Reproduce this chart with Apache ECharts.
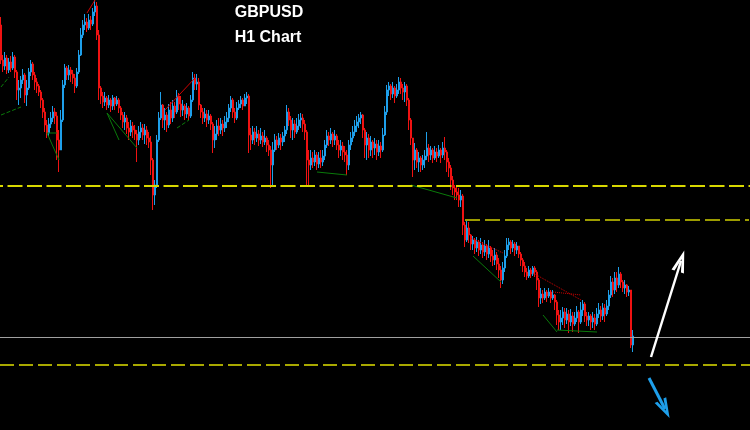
<!DOCTYPE html>
<html>
<head>
<meta charset="utf-8">
<script src="https://cdn.jsdelivr.net/npm/echarts@6/dist/echarts.min.js"></script>
<style>
html,body{margin:0;padding:0;background:#000;}
#c{width:750px;height:430px;}
</style>
</head>
<body>
<div id="c"></div>
<script>
// ---- data (hourly GBPUSD bars) ----
const titleText = 'GBPUSD';
const subTitleText = 'H1 Chart';
const firstOpen = 1.2875;
const closes = [
1.2840,1.2834,1.2842,1.2830,1.2838,1.2832,1.2843,1.2828,1.2810,1.2812,
1.2820,1.2825,1.2805,1.2812,1.2828,1.2836,1.2825,1.2818,1.2814,1.2808,
1.2800,1.2788,1.2775,1.2767,1.2776,1.2782,1.2788,1.2784,1.2760,1.2750,
1.2780,1.2815,1.2832,1.2825,1.2830,1.2826,1.2822,1.2814,1.2828,1.2845,
1.2865,1.2875,1.2878,1.2872,1.2880,1.2876,1.2888,1.2894,1.2865,1.2812,
1.2804,1.2798,1.2802,1.2795,1.2800,1.2794,1.2802,1.2796,1.2800,1.2792,
1.2785,1.2778,1.2782,1.2772,1.2768,1.2774,1.2770,1.2766,1.2760,1.2768,
1.2772,1.2765,1.2770,1.2762,1.2758,1.2740,1.2705,1.2715,1.2760,1.2782,
1.2795,1.2780,1.2785,1.2775,1.2790,1.2782,1.2794,1.2788,1.2804,1.2796,
1.2790,1.2794,1.2786,1.2792,1.2784,1.2800,1.2822,1.2816,1.2818,1.2795,
1.2788,1.2782,1.2786,1.2780,1.2784,1.2776,1.2760,1.2766,1.2774,1.2770,
1.2776,1.2772,1.2778,1.2782,1.2792,1.2800,1.2788,1.2782,1.2792,1.2796,
1.2800,1.2794,1.2802,1.2804,1.2765,1.2760,1.2768,1.2762,1.2766,1.2760,
1.2764,1.2758,1.2762,1.2755,1.2750,1.2735,1.2750,1.2760,1.2755,1.2762,
1.2758,1.2764,1.2770,1.2788,1.2780,1.2770,1.2776,1.2768,1.2774,1.2780,
1.2782,1.2776,1.2768,1.2740,1.2735,1.2742,1.2738,1.2745,1.2736,1.2742,
1.2738,1.2744,1.2755,1.2764,1.2760,1.2766,1.2760,1.2764,1.2755,1.2750,
1.2754,1.2748,1.2745,1.2735,1.2755,1.2762,1.2768,1.2774,1.2778,1.2782,
1.2785,1.2770,1.2755,1.2762,1.2750,1.2758,1.2752,1.2756,1.2748,1.2754,
1.2750,1.2765,1.2788,1.2810,1.2814,1.2806,1.2812,1.2804,1.2810,1.2818,
1.2812,1.2808,1.2814,1.2800,1.2780,1.2762,1.2740,1.2750,1.2738,1.2742,
1.2735,1.2740,1.2744,1.2752,1.2745,1.2750,1.2742,1.2748,1.2744,1.2750,
1.2745,1.2752,1.2748,1.2738,1.2732,1.2720,1.2712,1.2708,1.2705,1.2700,
1.2704,1.2675,1.2660,1.2672,1.2665,1.2656,1.2660,1.2652,1.2658,1.2650,
1.2655,1.2648,1.2654,1.2646,1.2652,1.2644,1.2640,1.2645,1.2636,1.2630,
1.2620,1.2632,1.2644,1.2655,1.2658,1.2652,1.2656,1.2650,1.2654,1.2646,
1.2640,1.2634,1.2628,1.2624,1.2630,1.2626,1.2632,1.2628,1.2620,1.2602,
1.2606,1.2602,1.2608,1.2604,1.2608,1.2602,1.2605,1.2598,1.2585,1.2578,
1.2582,1.2588,1.2580,1.2586,1.2578,1.2584,1.2576,1.2582,1.2588,1.2578,
1.2590,1.2596,1.2584,1.2580,1.2584,1.2578,1.2582,1.2576,1.2586,1.2590,
1.2584,1.2592,1.2586,1.2594,1.2605,1.2618,1.2610,1.2622,1.2615,1.2626,
1.2618,1.2612,1.2615,1.2608,1.2610,1.2555,1.2564
];
const highs = [
1.2883,1.2845,1.2848,1.2845,1.2842,1.2844,1.2848,1.2845,1.2830,1.2820,
1.2824,1.2831,1.2827,1.2820,1.2832,1.2840,1.2838,1.2828,1.2822,1.2816,
1.2810,1.2802,1.2792,1.2780,1.2782,1.2788,1.2794,1.2792,1.2788,1.2770,
1.2790,1.2820,1.2836,1.2834,1.2835,1.2833,1.2830,1.2826,1.2832,1.2850,
1.2872,1.2880,1.2886,1.2882,1.2886,1.2884,1.2892,1.2900,1.2898,1.2870,
1.2814,1.2808,1.2808,1.2804,1.2805,1.2802,1.2805,1.2803,1.2804,1.2802,
1.2794,1.2788,1.2788,1.2785,1.2778,1.2780,1.2778,1.2775,1.2770,1.2774,
1.2778,1.2776,1.2776,1.2774,1.2768,1.2764,1.2742,1.2720,1.2765,1.2788,
1.2808,1.2796,1.2792,1.2788,1.2796,1.2798,1.2800,1.2798,1.2810,1.2807,
1.2804,1.2800,1.2796,1.2797,1.2794,1.2805,1.2828,1.2826,1.2826,1.2822,
1.2796,1.2792,1.2792,1.2790,1.2790,1.2786,1.2778,1.2774,1.2780,1.2782,
1.2782,1.2780,1.2784,1.2788,1.2796,1.2804,1.2802,1.2792,1.2798,1.2800,
1.2804,1.2802,1.2806,1.2808,1.2806,1.2772,1.2774,1.2772,1.2774,1.2770,
1.2772,1.2768,1.2770,1.2764,1.2760,1.2754,1.2758,1.2766,1.2764,1.2767,
1.2766,1.2768,1.2774,1.2795,1.2792,1.2784,1.2782,1.2780,1.2782,1.2786,
1.2787,1.2786,1.2780,1.2770,1.2750,1.2750,1.2748,1.2750,1.2748,1.2748,
1.2750,1.2750,1.2760,1.2770,1.2768,1.2772,1.2768,1.2770,1.2766,1.2760,
1.2760,1.2758,1.2754,1.2750,1.2760,1.2768,1.2774,1.2780,1.2784,1.2786,
1.2788,1.2786,1.2772,1.2768,1.2766,1.2764,1.2760,1.2762,1.2760,1.2760,
1.2758,1.2772,1.2794,1.2815,1.2818,1.2816,1.2818,1.2814,1.2816,1.2823,
1.2822,1.2816,1.2818,1.2816,1.2802,1.2782,1.2760,1.2757,1.2752,1.2748,
1.2744,1.2745,1.2750,1.2768,1.2756,1.2754,1.2752,1.2754,1.2752,1.2755,
1.2752,1.2758,1.2763,1.2750,1.2742,1.2735,1.2724,1.2715,1.2713,1.2712,
1.2710,1.2706,1.2678,1.2680,1.2678,1.2666,1.2664,1.2662,1.2663,1.2660,
1.2662,1.2658,1.2660,1.2656,1.2660,1.2654,1.2650,1.2652,1.2648,1.2642,
1.2634,1.2638,1.2650,1.2662,1.2662,1.2660,1.2660,1.2658,1.2658,1.2654,
1.2648,1.2642,1.2638,1.2632,1.2634,1.2632,1.2634,1.2634,1.2630,1.2622,
1.2612,1.2610,1.2612,1.2610,1.2612,1.2610,1.2610,1.2606,1.2600,1.2590,
1.2590,1.2593,1.2592,1.2592,1.2590,1.2591,1.2588,1.2588,1.2594,1.2590,
1.2598,1.2600,1.2598,1.2588,1.2588,1.2586,1.2588,1.2586,1.2592,1.2597,
1.2594,1.2597,1.2596,1.2600,1.2610,1.2624,1.2622,1.2628,1.2628,1.2633,
1.2628,1.2620,1.2620,1.2616,1.2614,1.2610,1.2570
];
const lows = [
1.2836,1.2828,1.2830,1.2826,1.2827,1.2828,1.2830,1.2822,1.2800,1.2795,
1.2802,1.2816,1.2797,1.2794,1.2810,1.2824,1.2820,1.2810,1.2807,1.2804,
1.2792,1.2782,1.2768,1.2762,1.2764,1.2772,1.2778,1.2776,1.2740,1.2728,
1.2750,1.2778,1.2812,1.2820,1.2820,1.2818,1.2816,1.2807,1.2812,1.2826,
1.2844,1.2862,1.2870,1.2868,1.2870,1.2870,1.2874,1.2884,1.2860,1.2800,
1.2796,1.2792,1.2794,1.2790,1.2792,1.2788,1.2790,1.2790,1.2794,1.2787,
1.2780,1.2772,1.2770,1.2766,1.2760,1.2764,1.2762,1.2760,1.2738,1.2755,
1.2762,1.2760,1.2756,1.2755,1.2752,1.2725,1.2690,1.2695,1.2712,1.2758,
1.2780,1.2772,1.2770,1.2768,1.2772,1.2776,1.2778,1.2782,1.2786,1.2790,
1.2783,1.2784,1.2780,1.2782,1.2780,1.2782,1.2798,1.2810,1.2810,1.2790,
1.2782,1.2776,1.2778,1.2773,1.2776,1.2770,1.2747,1.2752,1.2760,1.2764,
1.2766,1.2764,1.2768,1.2772,1.2778,1.2788,1.2782,1.2777,1.2780,1.2790,
1.2792,1.2790,1.2794,1.2796,1.2747,1.2750,1.2756,1.2755,1.2758,1.2754,
1.2756,1.2753,1.2755,1.2748,1.2744,1.2712,1.2715,1.2748,1.2750,1.2752,
1.2750,1.2754,1.2758,1.2766,1.2774,1.2762,1.2760,1.2762,1.2766,1.2770,
1.2772,1.2768,1.2760,1.2713,1.2715,1.2730,1.2732,1.2734,1.2730,1.2732,
1.2732,1.2734,1.2740,1.2752,1.2754,1.2756,1.2753,1.2755,1.2750,1.2742,
1.2744,1.2740,1.2738,1.2725,1.2730,1.2750,1.2758,1.2764,1.2768,1.2772,
1.2776,1.2762,1.2742,1.2740,1.2742,1.2744,1.2742,1.2745,1.2740,1.2744,
1.2742,1.2748,1.2764,1.2785,1.2804,1.2800,1.2802,1.2797,1.2802,1.2806,
1.2806,1.2800,1.2798,1.2794,1.2770,1.2755,1.2723,1.2730,1.2732,1.2728,
1.2728,1.2730,1.2732,1.2740,1.2738,1.2740,1.2737,1.2740,1.2738,1.2742,
1.2737,1.2742,1.2740,1.2728,1.2723,1.2710,1.2705,1.2700,1.2700,1.2693,
1.2693,1.2665,1.2653,1.2658,1.2657,1.2650,1.2650,1.2646,1.2648,1.2644,
1.2646,1.2642,1.2644,1.2640,1.2642,1.2638,1.2634,1.2635,1.2630,1.2622,
1.2612,1.2616,1.2628,1.2642,1.2650,1.2646,1.2648,1.2644,1.2646,1.2642,
1.2634,1.2628,1.2623,1.2620,1.2622,1.2622,1.2624,1.2623,1.2610,1.2593,
1.2596,1.2597,1.2600,1.2598,1.2602,1.2597,1.2600,1.2590,1.2575,1.2570,
1.2570,1.2575,1.2572,1.2576,1.2567,1.2574,1.2568,1.2574,1.2578,1.2567,
1.2576,1.2584,1.2578,1.2574,1.2574,1.2570,1.2572,1.2570,1.2574,1.2582,
1.2578,1.2580,1.2578,1.2584,1.2590,1.2602,1.2603,1.2606,1.2608,1.2612,
1.2612,1.2608,1.2606,1.2603,1.2604,1.2552,1.2548
];
// horizontal levels
const upperLevel = 1.2714;    // yellow dashed
const midLevel = 1.2680;      // olive dashed (starts after the breakdown)
const midLevelStart = 232;
const currentLevel = 1.2563;  // grey price line
const lowerLevel = 1.2535;    // olive dashed
// projection arrows [bar index, price]
const upArrow = [[325, 1.2543], [340, 1.2639]];
const downArrow = [[324, 1.2522], [332, 1.2491]];
// indicator trend segments [bar index, price]
const greenSegs = [
  [[23,1.2767],[29,1.2740]], [[23,1.2767],[28,1.2767]],
  [[53,1.2787],[59,1.2760]], [[53,1.2787],[68,1.2752]],
  [[158,1.2728],[173,1.2725]], [[205,1.2715],[228,1.2702]],
  [[236,1.2644],[250,1.2618]], [[271,1.2585],[278,1.2568]],
  [[278,1.2570],[298,1.2568]]
];
const greenDotSegs = [
  [[0,1.2785],[10,1.2793]], [[0,1.2813],[4,1.2823]], [[88,1.2772],[94,1.2780]]
];
const redSegs = [
  [[43,1.2887],[47,1.2900]], [[82,1.2790],[97,1.2822]]
];
const redDotSegs = [
  [[235,1.2662],[251,1.2647]], [[266,1.2627],[290,1.2600]], [[276,1.2608],[290,1.2605]]
];
const totalSlots = 375;
const yMin = 1.2470, yMax = 1.2900;

// ---- build ----
const categories = [];
for (let i = 0; i < totalSlots; i++) categories.push(String(i));
const ohlc = closes.map((c, i) => {
  const o = i === 0 ? firstOpen : closes[i - 1];
  return [o, c, lows[i], highs[i]];
});

function segSeries(segs, color, type, width) {
  return segs.map(s => ({
    type: 'line', data: s, symbol: 'none', silent: true,
    lineStyle: { color: color, width: width, type: type }
  }));
}

const chart = echarts.init(document.getElementById('c'));
const chevron = 'path://M5,0 L10,13 L7.6,13 L5,5.2 L2.4,13 L0,13 Z';
chart.setOption({
  backgroundColor: '#000000',
  animation: false,
  title: [
    { text: titleText, left: 264, top: 0, textAlign: 'center',
      textStyle: { color: '#ffffff', fontFamily: 'Liberation Sans, Arial', fontWeight: 'bold', fontSize: 16 } },
    { text: subTitleText, left: 263, top: 25, textAlign: 'center',
      textStyle: { color: '#ffffff', fontFamily: 'Liberation Sans, Arial', fontWeight: 'bold', fontSize: 16 } }
  ],
  grid: { left: 0, right: 0, top: 0, bottom: 0 },
  xAxis: { type: 'category', data: categories, boundaryGap: true, show: false },
  yAxis: { type: 'value', min: yMin, max: yMax, show: false, scale: true },
  series: [
    {
      type: 'candlestick', data: ohlc, barWidth: 1.4, silent: true,
      itemStyle: { color: '#1e9fea', color0: '#f01212', borderColor: '#1e9fea', borderColor0: '#f01212', borderWidth: 1 },
      markLine: {
        silent: true, precision: 6, symbol: ['none', 'none'], label: { show: false },
        data: [
          { yAxis: upperLevel, lineStyle: { color: '#d8d800', width: 2, type: [15, 4.5], dashOffset: 12 } },
          [{ coord: [midLevelStart, midLevel], lineStyle: { color: '#9c9c00', width: 2, type: [15, 5] } },
           { coord: [totalSlots - 1, midLevel] }],
          { yAxis: currentLevel, lineStyle: { color: '#a0a0a0', width: 1, type: 'solid' } },
          { yAxis: lowerLevel, lineStyle: { color: '#a8a800', width: 2, type: [14, 5] } },
          [{ coord: upArrow[0], symbol: 'none', lineStyle: { color: '#ffffff', width: 2.5, type: 'solid' } },
           { coord: upArrow[1], symbol: chevron, symbolSize: [13, 22] }],
          [{ coord: downArrow[0], symbol: 'none', lineStyle: { color: '#1e9fea', width: 3, type: 'solid' } },
           { coord: downArrow[1], symbol: chevron, symbolSize: [13, 20] }]
        ]
      }
    }
  ]
  .concat(segSeries(greenSegs, '#0a7a0a', 'solid', 1))
  .concat(segSeries(greenDotSegs, '#0a7a0a', 'dashed', 1))
  .concat(segSeries(redSegs, '#d00000', 'solid', 1))
  .concat(segSeries(redDotSegs, '#d00000', 'dotted', 1))
});
</script>
</body>
</html>
